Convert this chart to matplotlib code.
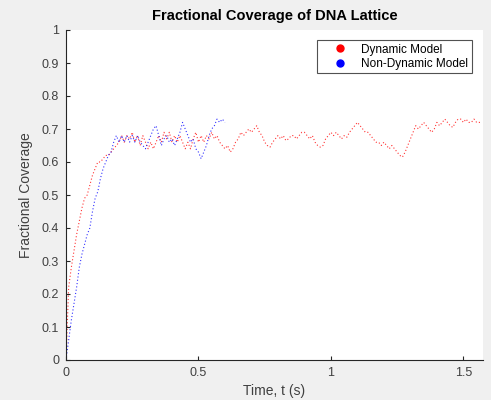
import numpy as np
import matplotlib
matplotlib.use("Agg")
import matplotlib.pyplot as plt
from matplotlib.lines import Line2D

plt.rcParams['font.family'] = ['Liberation Sans', 'DejaVu Sans']

dt = 0.01
dynamic_values = [
    0.00, 0.22, 0.28, 0.33, 0.38, 0.42, 0.46, 0.49, 0.50, 0.53,
    0.56, 0.58, 0.60, 0.60, 0.61, 0.62, 0.62, 0.63, 0.64, 0.65,
    0.66, 0.68, 0.66, 0.68, 0.67, 0.69, 0.66, 0.68, 0.65, 0.68,
    0.66, 0.64, 0.66, 0.64, 0.66, 0.68, 0.66, 0.69, 0.67, 0.69,
    0.66, 0.68, 0.66, 0.68, 0.66, 0.64, 0.66, 0.64, 0.67, 0.69,
    0.66, 0.68, 0.66, 0.68, 0.67, 0.69, 0.67, 0.68, 0.66, 0.65,
    0.64, 0.65, 0.63, 0.64, 0.66, 0.67, 0.69, 0.68, 0.69, 0.70,
    0.69, 0.70, 0.71, 0.69, 0.68, 0.66, 0.65, 0.645, 0.66, 0.67,
    0.68, 0.67, 0.68, 0.665, 0.67, 0.68, 0.68, 0.67, 0.68, 0.69,
    0.69, 0.68, 0.67, 0.68, 0.66, 0.65, 0.645, 0.65, 0.67, 0.68,
    0.69, 0.68, 0.69, 0.68, 0.67, 0.68, 0.675, 0.69, 0.70, 0.71,
    0.72, 0.71, 0.70, 0.69, 0.69, 0.68, 0.67, 0.66, 0.66, 0.65,
    0.66, 0.65, 0.64, 0.65, 0.64, 0.63, 0.62, 0.615, 0.63, 0.65,
    0.67, 0.69, 0.71, 0.70, 0.71, 0.72, 0.71, 0.70, 0.69, 0.70,
    0.72, 0.71, 0.72, 0.73, 0.72, 0.71, 0.705, 0.72, 0.73, 0.73,
    0.72, 0.73, 0.72, 0.72, 0.73, 0.72, 0.72, 0.72,
]
nondynamic_values = [
    0.00, 0.06, 0.12, 0.17, 0.22, 0.28, 0.32, 0.35, 0.38, 0.40,
    0.45, 0.49, 0.51, 0.55, 0.58, 0.60, 0.62, 0.63, 0.66, 0.68,
    0.66, 0.68, 0.66, 0.68, 0.66, 0.68, 0.66, 0.68, 0.66, 0.65,
    0.64, 0.66, 0.68, 0.70, 0.71, 0.68, 0.65, 0.67, 0.68, 0.66,
    0.67, 0.65, 0.67, 0.69, 0.72, 0.70, 0.68, 0.66, 0.67, 0.64,
    0.63, 0.61, 0.63, 0.65, 0.68, 0.70, 0.71, 0.73, 0.72, 0.73,
    0.72,
]
t_dynamic = np.arange(len(dynamic_values)) * dt
t_nondynamic = np.arange(len(nondynamic_values)) * dt

x_ticks = [0, 0.5, 1, 1.5]
x_tick_labels = ['0', '0.5', '1', '1.5']
y_ticks = [0, 0.1, 0.2, 0.3, 0.4, 0.5, 0.6, 0.7, 0.8, 0.9, 1]
y_tick_labels = ['0', '0.1', '0.2', '0.3', '0.4', '0.5', '0.6', '0.7', '0.8', '0.9', '1']

fig = plt.figure(figsize=(4.91, 4.0), dpi=100)
fig.patch.set_facecolor('#f0f0f0')
ax = fig.add_axes([66/491, 40/400, 417/491, 330/400])
ax.set_facecolor('white')

dots = (0, (1, 2))
ax.plot(t_dynamic, dynamic_values, color='red', linestyle=dots,
        linewidth=0.8, alpha=0.8)
ax.plot(t_nondynamic, nondynamic_values, color='blue', linestyle=dots,
        linewidth=0.8, alpha=0.8)

ax.set_xlim(0, 1.574)
ax.set_ylim(0, 1)
ax.set_xticks(x_ticks)
ax.set_xticklabels(x_tick_labels)
ax.set_yticks(y_ticks)
ax.set_yticklabels(y_tick_labels)

edge = '#262626'
for s in ['top', 'right']:
    ax.spines[s].set_visible(False)
for s in ['left', 'bottom']:
    ax.spines[s].set_color(edge)
    ax.spines[s].set_linewidth(0.8)
ax.tick_params(direction='in', length=3, width=0.8, colors=edge,
               labelsize=9, labelcolor='#404040', pad=5)

ax.set_title('Fractional Coverage of DNA Lattice', fontsize=10.5,
             fontweight='bold', color='black', pad=7)
ax.set_xlabel('Time, t (s)', fontsize=10, color='#404040', labelpad=4)
ax.set_ylabel('Fractional Coverage', fontsize=10, color='#404040', labelpad=6)

handles = [
    Line2D([], [], color='red', marker='o', linestyle='none', markersize=5),
    Line2D([], [], color='blue', marker='o', linestyle='none', markersize=5),
]
leg = ax.legend(handles, ['Dynamic Model', 'Non-Dynamic Model'],
                loc='upper right', bbox_to_anchor=(0.9736, 0.9697),
                borderaxespad=0.0,
                fontsize=8.5, frameon=True, fancybox=False,
                handletextpad=0.2, borderpad=0.3, labelspacing=0.2,
                handlelength=3.3)
leg.get_frame().set_edgecolor('#262626')
leg.get_frame().set_linewidth(0.8)

fig.savefig('out.png', dpi=100, facecolor=fig.get_facecolor())
